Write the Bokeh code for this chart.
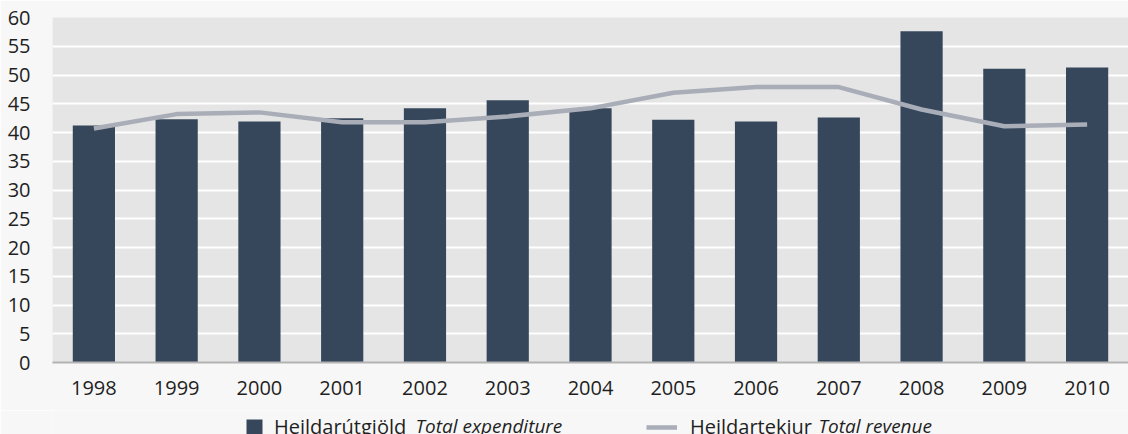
from bokeh.plotting import figure
from bokeh.layouts import column
from bokeh.models import Range1d, FactorRange, FixedTicker, Legend, LegendItem, Label
from bokeh.embed import file_html
from bokeh.resources import INLINE

years = ["1998", "1999", "2000", "2001", "2002", "2003", "2004",
         "2005", "2006", "2007", "2008", "2009", "2010"]
expenditure = [41.2, 42.3, 41.9, 42.5, 44.2, 45.6, 44.2, 42.2, 41.9, 42.6, 57.6, 51.1, 51.3]
revenue = [40.7, 43.2, 43.5, 41.8, 41.8, 42.8, 44.2, 46.9, 47.9, 47.9, 44.0, 41.1, 41.4]
y_ticks = list(range(0, 61, 5))
series_names = ["Heildarútgjöld", "Heildartekjur"]
series_names_en = ["Total expenditure", "Total revenue"]

BAR = "#36475b"
LINE = "#a9adb8"
FONT = "Open Sans"
TXT = "#1f1f1f"
PAGE = "#f7f7f7"

p = figure(width=1128, height=410, x_range=FactorRange(*years), y_range=Range1d(0, 60),
           output_backend="svg", toolbar_location=None,
           min_border_left=52, min_border_right=0, min_border_top=17, min_border_bottom=48)
p.background_fill_color = "#e5e5e5"
p.border_fill_color = PAGE
p.outline_line_color = None

bars = p.vbar(x=years, top=expenditure, width=0.51, color=BAR, line_color=None)
line = p.line(x=years, y=revenue, line_color=LINE, line_width=4.5)

p.xgrid.grid_line_color = None
p.ygrid.grid_line_color = "white"
p.ygrid.grid_line_width = 2
p.yaxis.ticker = FixedTicker(ticks=y_ticks)

for ax in (p.xaxis[0], p.yaxis[0]):
    ax.major_tick_line_color = None
    ax.minor_tick_line_color = None
    ax.major_tick_in = 0
    ax.major_tick_out = 0
    ax.major_label_text_font = FONT
    ax.major_label_text_font_size = "20px"
    ax.major_label_text_color = TXT
p.yaxis.axis_line_color = None
p.yaxis.major_label_standoff = 22
p.xaxis.axis_line_color = "#b3b3b3"
p.xaxis.axis_line_width = 2
p.xaxis.major_label_standoff = 18

# legend strip below the chart (its frame is aligned with the chart frame, left = 52px)
lg = figure(width=1128, height=24, x_range=FactorRange(*years), y_range=Range1d(1000, 1001),
            output_backend="svg", toolbar_location=None, x_axis_type=None, y_axis_type=None,
            min_border=0)
lg.background_fill_color = PAGE
lg.border_fill_color = PAGE
lg.outline_line_color = None
lbars = lg.vbar(x=years, top=expenditure, width=0.51, color=BAR, line_color=None)
lline = lg.line(x=years, y=revenue, line_color=LINE, line_width=4.5)

common = dict(padding=0, margin=0, spacing=0, glyph_height=20, label_height=20,
              label_text_font=FONT, label_text_font_size="20px", label_text_color=TXT,
              background_fill_alpha=0, border_line_color=None)
lg.add_layout(Legend(items=[LegendItem(label=series_names[0], renderers=[lbars])],
                     location=(192, -6), glyph_width=20, label_standoff=10, **common), "center")
lg.add_layout(Legend(items=[LegendItem(label=series_names[1], renderers=[lline])],
                     location=(594, -6), glyph_width=31, label_standoff=13, **common), "center")

for txt, xs in zip(series_names_en, (363, 766)):
    lg.add_layout(Label(x=xs, y=9, x_units="screen", y_units="screen", text=txt,
                        text_font=FONT, text_font_style="italic",
                        text_font_size="19px", text_color=TXT, text_baseline="middle"))

open("out.html", "w").write(file_html(column(p, lg, spacing=0), INLINE))
